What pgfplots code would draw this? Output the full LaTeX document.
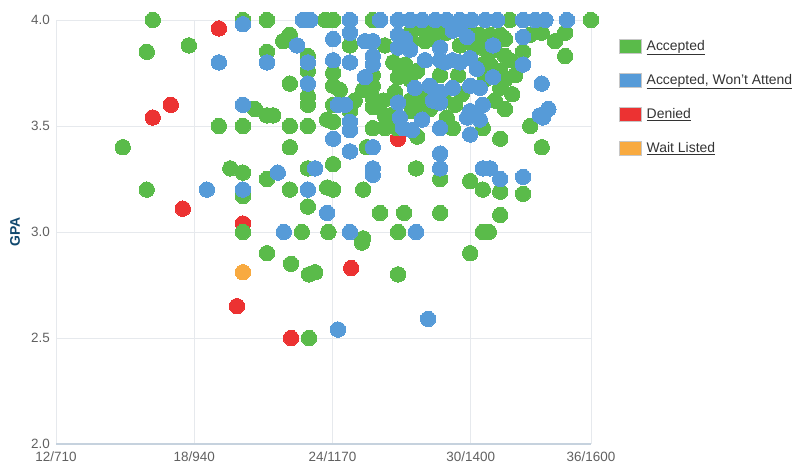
\documentclass[border=0pt]{standalone}
\usepackage{fontspec}
\setmainfont{Liberation Sans}
\usepackage{pgfplots}
\pgfplotsset{compat=1.18}
\definecolor{accG}{RGB}{90,187,74}
\definecolor{accB}{RGB}{86,155,216}
\definecolor{denR}{RGB}{236,50,50}
\definecolor{waitO}{RGB}{248,170,64}
\definecolor{gridc}{RGB}{230,233,237}
\definecolor{axc}{RGB}{198,210,222}
\definecolor{tickc}{RGB}{96,96,96}
\definecolor{gpac}{RGB}{16,72,110}
\definecolor{legt}{RGB}{51,51,51}
\begin{document}
\begin{tikzpicture}
\path[use as bounding box] (0,0) rectangle (800bp,467bp);
\begin{axis}[
 at={(56bp,23bp)}, anchor=south west,
 width=535bp, height=424bp, scale only axis,
 xmin=710, xmax=1600, ymin=2, ymax=4,
 clip=false,
 axis x line*=bottom, axis y line*=left,
 x axis line style={draw=axc, line width=1.6bp, -},
 y axis line style={draw=none},
 major tick length=0pt,
 xtick={710,940,1170,1400,1600},
 xticklabels={12/710,18/940,24/1170,30/1400,36/1600},
 ytick={2,2.5,3,3.5,4},
 yticklabels={2.0,2.5,3.0,3.5,4.0},
 xmajorgrids, ymajorgrids,
 major grid style={draw=gridc, line width=0.9bp},
 tick label style={font=\fontsize{13.5}{15}\selectfont, text=tickc, inner sep=0pt},
 xticklabel style={anchor=north, yshift=-8bp},
 yticklabel style={anchor=east, xshift=-6bp},
 ylabel={GPA},
 ylabel style={font=\fontsize{14}{16}\selectfont\bfseries, text=gpac, at={(axis description cs:-0.0766,0.5)}, anchor=center},
 legend style={at={(axis description cs:1.0522,0.9599)}, anchor=north west, draw=none, fill=none,
   font=\fontsize{14}{16}\selectfont, text=legt, row sep=16.5bp, inner sep=0pt, nodes={inner xsep=5bp, inner ysep=3bp}},
 legend cell align=left,
 legend image code/.code={\draw[#1, draw=black!22, line width=0.6bp] (-2bp,-7bp) rectangle (20bp,7bp);},
 mystyle/.style={only marks, mark=*, mark size=7.7bp, color=#1, mark options={solid, draw=#1, fill=#1, line width=0pt}, forget plot},
]
\addlegendimage{fill=accG}
\addlegendentry{\underline{Accepted}}
\addlegendimage{fill=accB}
\addlegendentry{\underline{Accepted, Won't Attend}}
\addlegendimage{fill=denR}
\addlegendentry{\underline{Denied}}
\addlegendimage{fill=waitO}
\addlegendentry{\underline{Wait Listed}}

\addplot[mystyle=denR] coordinates {
(981,3.96)(901,3.60)(871,3.54)(921,3.11)(1021,3.04)(1011,2.65)(1101,2.50)(1201,2.83)(1279,3.44)
};
\addplot[mystyle=accG] coordinates {
(871,4.00)(861,3.85)(931,3.88)(1021,4.00)(1061,4.00)(1061,3.85)(1099,3.93)(1088,3.90)(1099,3.70)(1129,3.83)
(1129,3.76)(1129,3.64)(1129,3.60)(1041,3.58)(1061,3.55)(1071,3.55)(981,3.50)(1021,3.50)(1099,3.50)(1129,3.50)
(821,3.40)(1099,3.40)(1000,3.30)(1021,3.28)(1061,3.25)(1129,3.30)(861,3.20)(1021,3.17)(1099,3.20)(1129,3.12)
(1021,3.00)(1119,3.00)(1163,3.00)(1061,2.90)(1101,2.85)(1131,2.80)(1141,2.81)(1131,2.50)(1219,2.95)(1279,3.00)
(1399,2.90)(1279,2.80)(1158,4.00)(1171,4.00)(1171,3.75)(1171,3.69)(1171,3.60)(1161,3.53)(1171,3.52)(1171,3.32)
(1161,3.21)(1171,3.20)(1237,4.00)(1465,4.00)(1600,4.00)(1199,3.88)(1199,3.57)(1237,3.74)(1237,3.69)(1237,3.63)
(1237,3.59)(1254,3.62)(1271,3.80)(1291,3.79)(1279,3.73)(1299,3.72)(1311,3.76)(1302,3.95)(1324,3.95)(1344,3.95)
(1360,3.94)(1302,3.90)(1324,3.90)(1344,3.90)(1349,3.74)(1357,3.62)(1316,3.66)(1246,3.59)(1266,3.55)(1237,3.49)
(1257,3.49)(1277,3.49)(1311,3.45)(1370,3.49)(1227,3.40)(1309,3.30)(1349,3.25)(1221,3.20)(1249,3.09)(1289,3.09)
(1349,3.09)(1221,2.97)(1415,3.93)(1432,3.93)(1449,3.93)(1424,3.86)(1440,3.86)(1457,3.83)(1432,3.79)(1449,3.76)
(1457,3.72)(1424,3.72)(1449,3.68)(1399,3.94)(1419,3.79)(1487,3.85)(1518,3.94)(1557,3.94)(1557,3.83)(1420,3.49)
(1449,3.44)(1499,3.50)(1518,3.40)(1399,3.24)(1420,3.20)(1449,3.19)(1487,3.18)(1449,3.08)(1420,3.00)(1430,3.00)
(1257,3.88)(1221,3.67)(1207,3.62)(1299,3.62)(1316,3.60)(1374,3.60)(1379,3.74)(1382,3.88)(1457,3.91)(1407,3.87)
(1465,3.81)(1474,3.74)(1469,3.65)(1440,3.62)(1457,3.58)(1499,3.93)(1540,3.90)(1257,3.55)(1302,3.57)(1360,3.54)
(1182,3.67)(1274,3.66)(1332,3.58)(1385,3.65)
};
\addplot[mystyle=accB] coordinates {
(981,3.80)(1021,3.98)(1061,3.80)(1111,3.88)(1121,4.00)(1133,4.00)(1129,3.80)(1129,3.70)(1021,3.60)(1079,3.28)
(1141,3.30)(961,3.20)(1021,3.20)(1129,3.20)(1089,3.00)(1171,3.44)(1161,3.09)(1199,3.00)(1309,3.00)(1329,2.59)
(1179,2.54)(1171,3.91)(1171,3.81)(1179,3.60)(1199,4.00)(1249,4.00)(1279,4.00)(1299,4.00)(1319,4.00)(1341,4.00)
(1360,4.00)(1382,4.00)(1402,4.00)(1424,4.00)(1444,4.00)(1487,4.00)(1507,4.00)(1524,4.00)(1560,4.00)(1199,3.94)
(1199,3.80)(1191,3.60)(1224,3.90)(1237,3.90)(1237,3.83)(1237,3.79)(1224,3.73)(1279,3.93)(1279,3.87)(1349,3.87)
(1324,3.81)(1349,3.81)(1370,3.95)(1370,3.81)(1307,3.68)(1332,3.69)(1349,3.66)(1370,3.68)(1337,3.62)(1279,3.61)
(1282,3.54)(1394,3.92)(1437,3.88)(1487,3.92)(1487,3.79)(1399,3.82)(1410,3.77)(1437,3.73)(1399,3.69)(1415,3.68)
(1518,3.70)(1399,3.57)(1420,3.60)(1515,3.55)(1529,3.58)(1394,3.54)(1415,3.53)(1399,3.46)(1520,3.54)(1420,3.30)
(1432,3.30)(1449,3.25)(1487,3.26)(1199,3.52)(1199,3.48)(1287,3.49)(1302,3.48)(1319,3.53)(1349,3.49)(1199,3.38)
(1237,3.40)(1237,3.30)(1237,3.27)(1349,3.37)(1349,3.30)
(1382,3.96)(1357,3.80)(1382,3.80)(1349,3.61)(1291,3.91)(1299,3.86)
};
\addplot[mystyle=waitO] coordinates {
(1021,2.81)
};
\end{axis}
\end{tikzpicture}
\end{document}
